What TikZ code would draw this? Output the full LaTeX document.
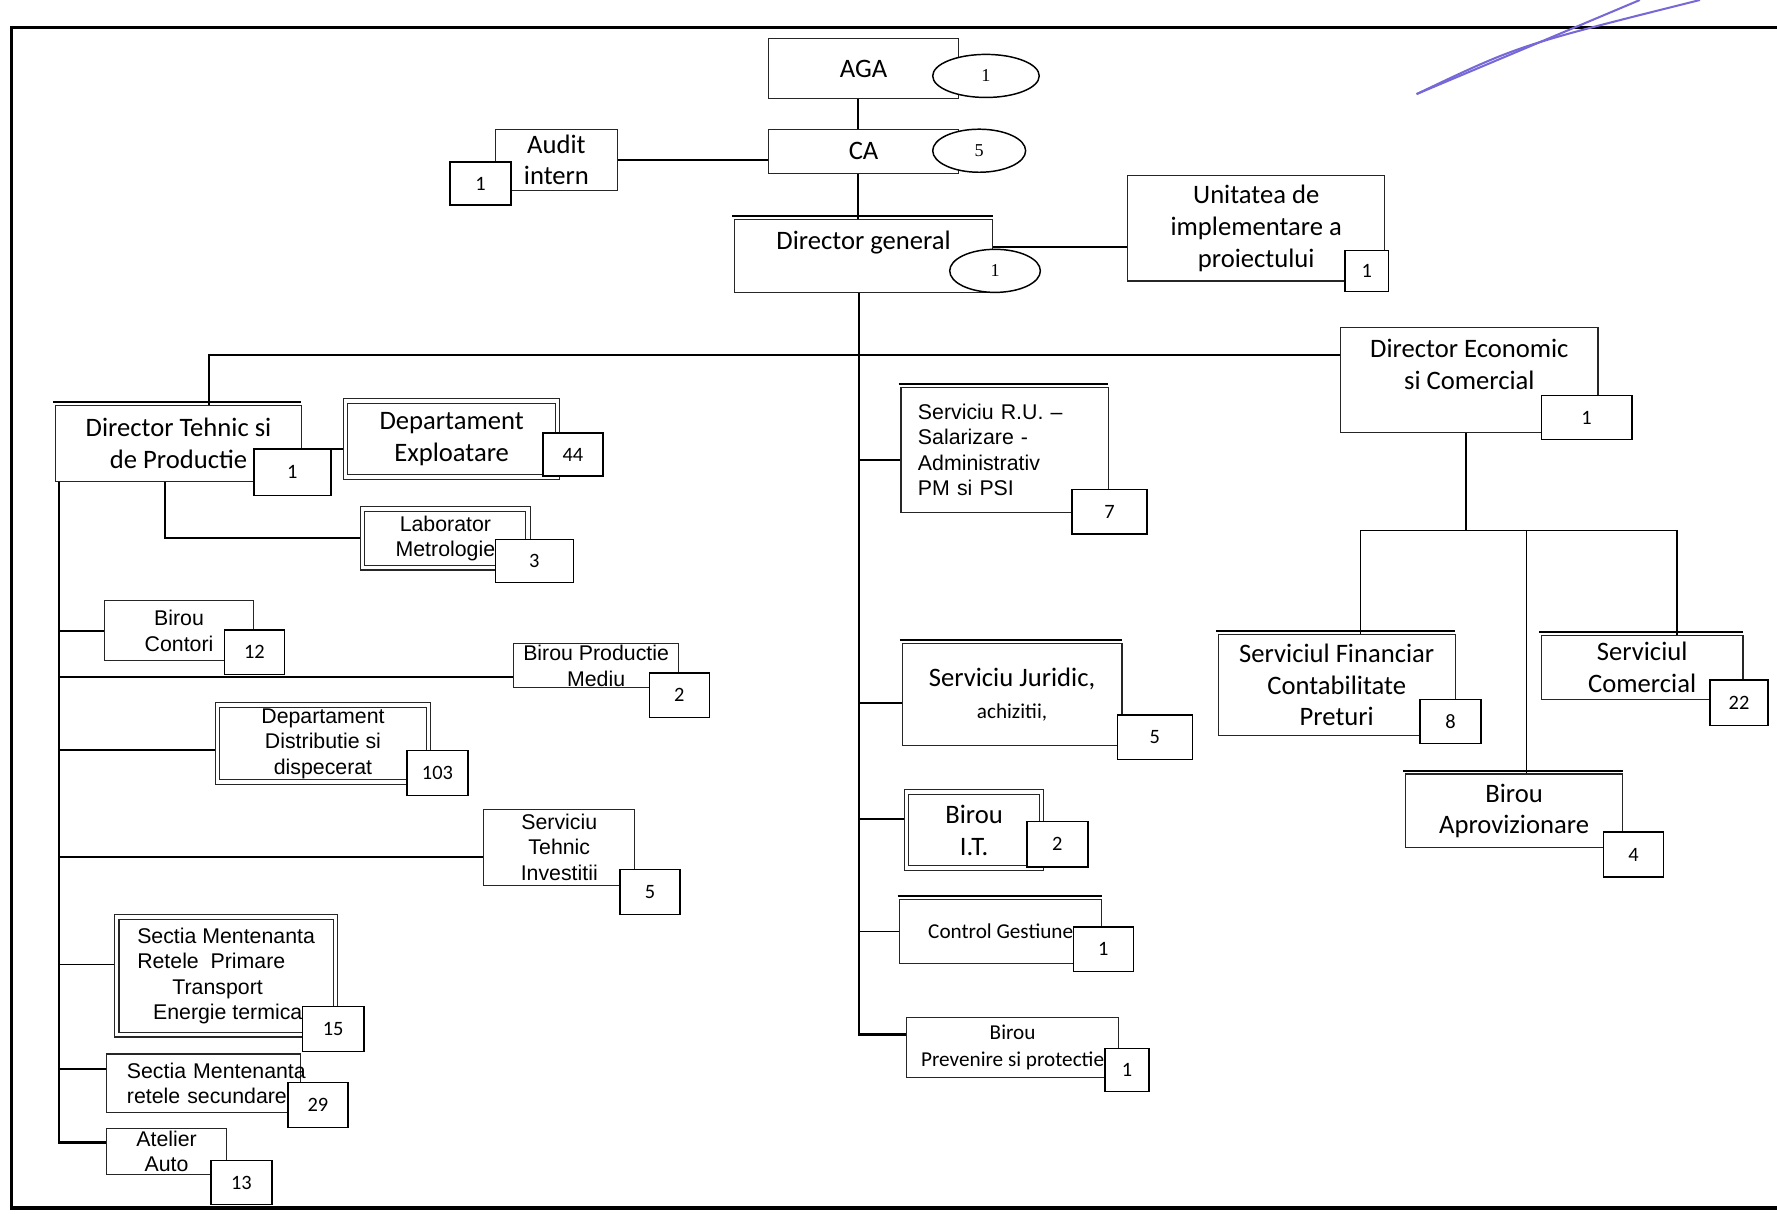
\documentclass[tikz,border=0pt]{standalone}
\usepackage{fontspec}
\usetikzlibrary{shapes.geometric}
\newfontfamily\calfont{Carlito}
\newfontfamily\arfont{Liberation Sans}
\newfontfamily\serfont{Liberation Serif}
\newcommand\mainfnt{\calfont\fontsize{23.5}{28}\selectfont}
\newcommand\smallfnt{\calfont\fontsize{18.7}{24}\selectfont}
\newcommand\arfnt{\arfont\fontsize{18.8}{22.5}\selectfont}
\newcommand\nrfnt{\calfont\fontsize{18}{20}\selectfont}
\newcommand\ovfnt{\serfont\fontsize{16}{18}\selectfont}
\definecolor{pen}{RGB}{118,104,214}
\pgfdeclarelayer{bg}
\pgfsetlayers{bg,main}
\tikzset{
  post/.style 2 args={draw=black!85, line width=1pt, fill=white, anchor=north west,
    inner sep=0pt, outer sep=0pt, align=center, font=\mainfnt,
    minimum width=#1pt, minimum height=#2pt},
  nr/.style 2 args={draw, line width=1.3pt, fill=white, anchor=north west,
    inner sep=0pt, outer sep=0pt, font=\nrfnt, minimum width=#1pt, minimum height=#2pt},
  oval/.style 2 args={ellipse, draw, line width=1.3pt, fill=white, inner sep=0pt,
    font=\ovfnt, minimum width=#1pt, minimum height=#2pt},
  lid/.style={append after command={([xshift=-2pt,yshift=3pt]\tikzlastnode.north west)
    edge[line width=1.8pt] ([yshift=3pt]\tikzlastnode.north east)}},
  twin/.style={double, double distance=3pt},
  link/.style={line width=1.5pt},
  trunk/.style={line width=2.4pt}
}

\begin{document}
\begin{tikzpicture}[x=1pt,y=-1pt]
  \useasboundingbox (0,0) rectangle (1568,1071);
  \draw[line width=3pt] (1568,24) -- (10,24) -- (10,1066) -- (1568,1066);
  \draw[pen, line width=1.8pt] (1250,83) -- (1447,0);
  \draw[pen, line width=1.8pt] (1250,83) .. controls (1340,40) .. (1500,0);

  % top
  \node[post={168}{53}] (aga) at (678,34) {AGA};
  \node[oval={94}{38}] (agao) at (870,67) {1};
  \node[post={168}{39}] (ca) at (678,114) {CA};
  \node[oval={82}{38}] (cao) at (864,133) {5};
  \node[post={108}{54}] (audit) at (437,114) {Audit\\intern};
  \node[nr={54}{38}] (auditn) at (397,143) {1};
  \node[post={228}{64}, lid] (dg) at (648,194) {Director general\\\mbox{}};
  \node[oval={80}{38}] (dgo) at (878,239) {1};
  \node[post={227}{93}] (uip) at (995,155) {Unitatea de\\implementare a\\proiectului};
  \node[nr={38}{36}] (uipn) at (1187,221) {1};

  % tehnic
  \node[post={217}{67}, lid] (dtp) at (49,358) {Director Tehnic si\\de Productie};
  \node[nr={68}{41}] (dtpn) at (224,396) {1};
  \node[post={187}{67}, twin] (dexp) at (305,354) {Departament\\Exploatare};
  \node[nr={53}{38}] (dexpn) at (479,382) {44};
  \node[post={146}{52}, twin, font=\arfnt] (lab) at (320,449) {Laborator\\Metrologie};
  \node[nr={69}{38}] (labn) at (437,476) {3};
  \node[post={132}{53}, font=\arfnt] (bcont) at (92,530) {Birou\\Contori};
  \node[nr={53}{39}] (bcontn) at (198,556) {12};
  \node[post={146}{39}, font=\arfnt] (bpm) at (453,568) {Birou Productie\\Mediu};
  \node[nr={53}{39}] (bpmn) at (573,594) {2};
  \node[post={186}{68}, twin, font=\arfnt] (ddis) at (192,622) {Departament\\Distributie si\\dispecerat};
  \node[nr={54}{40}] (ddisn) at (359,662) {103};
  \node[post={133}{67}, font=\arfnt] (sti) at (427,714) {Serviciu\\Tehnic\\Investitii};
  \node[nr={53}{40}] (stin) at (547,767) {5};
  \node[post={193}{104}, twin, font=\arfnt, align=left] (smrp) at (103,809)
    {Sectia Mentenanta\\Retele\ \ Primare\\\hspace*{31pt}Transport\\\hspace*{14pt}Energie termica};
  \node[nr={54}{40}] (smrpn) at (267,888) {15};
  \node[post={171}{52}, font=\arfnt, align=left, text width=135pt, inner xsep=18pt] (smrs) at (94,930)
    {\mbox{Sectia Mentenanta}\\\mbox{retele secundare}};
  \node[nr={53}{40}] (smrsn) at (254,955) {29};
  \node[post={106}{40}, font=\arfnt] (atel) at (94,996) {Atelier\\Auto};
  \node[nr={54}{39}] (ateln) at (186,1024) {13};

  % middle
  \node[post={183}{110}, lid, font=\arfnt, align=left, text width=153pt, inner xsep=15pt] (sru) at (795,342)
    {Serviciu R.U. –\\Salarizare -\\Administrativ\\PM si PSI};
  \node[nr={66}{39}] (srun) at (946,432) {7};
  \node[post={194}{90}, lid] (sj) at (796,568) {Serviciu Juridic,\\{\smallfnt achizitii,}};
  \node[nr={66}{39}] (sjn) at (986,631) {5};
  \node[post={119}{67}, twin] (bit) at (800,699) {Birou\\I.T.};
  \node[nr={54}{40}] (bitn) at (906,725) {2};
  \node[post={178}{56}, lid, font=\smallfnt] (cg) at (794,794) {Control Gestiune};
  \node[nr={53}{39}] (cgn) at (947,818) {1};
  \node[post={187}{53}, font=\smallfnt] (bprev) at (800,898) {Birou\\Prevenire si protectie};
  \node[nr={39}{38}] (bprevn) at (975,925) {1};

  % economic
  \node[post={227}{93}] (dec) at (1183,289) {Director Economic\\si Comercial\\\mbox{}};
  \node[nr={80}{39}] (decn) at (1360,349) {1};
  \node[post={209}{89}, lid] (sfin) at (1075,560) {Serviciul Financiar\\Contabilitate\\Preturi};
  \node[nr={54}{39}] (sfinn) at (1253,617) {8};
  \node[post={178}{56}, lid] (scom) at (1360,561) {Serviciul\\Comercial};
  \node[nr={51}{40}] (scomn) at (1509,600) {22};
  \node[post={192}{65}, lid] (bapr) at (1240,683) {Birou\\Aprovizionare};
  \node[nr={53}{40}] (baprn) at (1415,734) {4};

  \begin{pgfonlayer}{bg}
    \draw[link] ([xshift=-5pt]aga.south) -- ([xshift=-5pt]ca.north);
    \draw[link] ([xshift=-5pt]ca.south) -- ([xshift=-5pt]dg.north);
    \draw[link] (audit.east) -- (audit.east -| ca.west);
    \draw[link] ([yshift=8pt]dg.east) -- ([yshift=8pt]dg.east -| uip.west);
    \coordinate (mt) at ([xshift=-4pt]dg.south);
    \coordinate (bar) at ([yshift=-55pt]mt);
    \draw[trunk] (mt) |- ([yshift=12pt]bprev.west);
    \draw[link] ([xshift=27pt]dtp.north) |- (dec.west |- bar);
    \foreach \n/\s in {sru/-9, sj/-7, bit/10, cg/0}{
      \path ([yshift=\s pt]\n.west) coordinate (tip);
      \draw[link] (mt |- tip) -- (tip);
    }
    \coordinate (lt) at ([xshift=3pt]dtp.south west);
    \draw[trunk] (lt) |- ([yshift=8pt]atel.west);
    \foreach \n/\s in {bcont/0, bpm/-10, ddis/-6, sti/-9, smrp/10, smrs/13}{
      \path ([yshift=\s pt]\n.west) coordinate (tip);
      \draw[link] (lt |- tip) -- (tip);
    }
    \draw[link] (dtp.east |- dtpn.north) -- (dexp.west |- dtpn.north);
    \draw[link] ([xshift=-12pt]dtp.south) |- (lab.west);
    \coordinate (ej) at ([xshift=-3pt,yshift=-86pt]dec.south);
    \draw[link] ([xshift=-3pt]dec.south) -- (ej);
    \draw[link] (ej) -| ([xshift=21pt]sfin.north);
    \draw[link] (ej) -| ([xshift=31pt]scom.north);
    \draw[link] (ej) -| ([xshift=11pt]bapr.north);
  \end{pgfonlayer}
\end{tikzpicture}
\end{document}
